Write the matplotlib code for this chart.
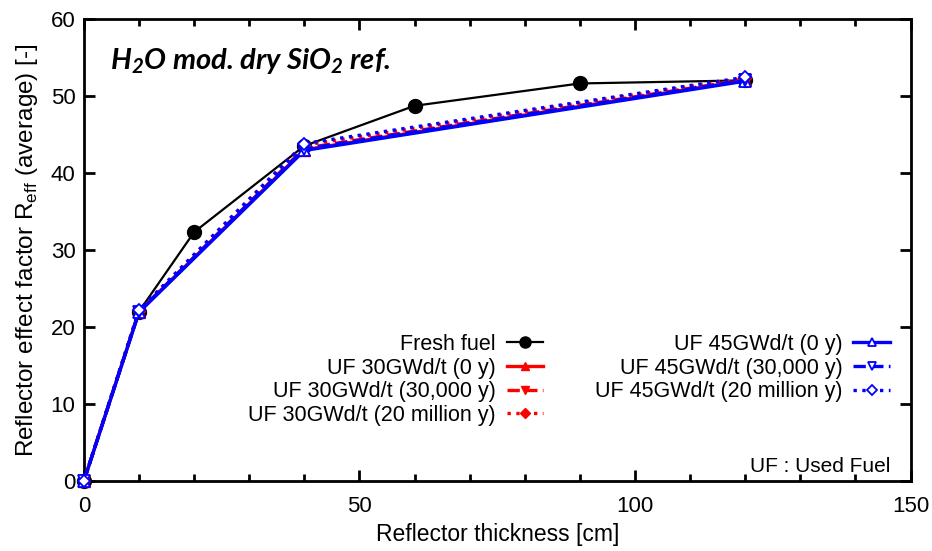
import matplotlib
matplotlib.use('Agg')
import matplotlib.pyplot as plt
from matplotlib.ticker import MultipleLocator

plt.rcParams['font.family'] = ['Liberation Sans', 'DejaVu Sans']

# reflector thickness [cm]
x_fresh = [0, 10, 20, 40, 60, 90, 120]
x_used = [0, 10, 40, 120]

# average reflector effect factor R_eff
fresh = [0, 22.0, 32.3, 43.5, 48.7, 51.6, 52.0]
uf30_0y = [0, 22.0, 43.0, 52.0]
uf30_30ky = [0, 22.0, 43.2, 52.1]
uf30_20my = [0, 22.1, 43.6, 52.3]
uf45_0y = [0, 21.9, 42.9, 51.9]
uf45_30ky = [0, 22.0, 43.1, 52.0]
uf45_20my = [0, 22.2, 43.8, 52.4]

labels = ['Fresh fuel',
          'UF 30GWd/t (0 y)', 'UF 30GWd/t (30,000 y)', 'UF 30GWd/t (20 million y)',
          'UF 45GWd/t (0 y)', 'UF 45GWd/t (30,000 y)', 'UF 45GWd/t (20 million y)']

fig = plt.figure(figsize=(9.32, 5.51), dpi=100)
ax = fig.add_axes([0.090, 0.127, 0.887, 0.839])

ax.plot(x_fresh, fresh, '-', color='black', lw=1.6, marker='o', ms=10,
        label=labels[0], clip_on=False, zorder=3)

styles = [('-', '^'), ('--', 'v'), (':', 'D')]
for (ls, mk), ys, lab in zip(styles, [uf30_0y, uf30_30ky, uf30_20my], labels[1:4]):
    ax.plot(x_used, ys, ls=ls, color='red', lw=2.4, marker=mk, ms=8 if mk != 'D' else 6,
            mfc='red', mec='red', label=lab, clip_on=False, zorder=4)
for (ls, mk), ys, lab in zip(styles, [uf45_0y, uf45_30ky, uf45_20my], labels[4:7]):
    ax.plot(x_used, ys, ls=ls, color='blue', lw=2.4, marker=mk, ms=8 if mk != 'D' else 6,
            mfc='white', mec='blue', mew=1.3, label=lab, clip_on=False, zorder=5)

ax.set_xlim(0, 150)
ax.set_ylim(0, 60)
ax.xaxis.set_major_locator(MultipleLocator(50))
ax.xaxis.set_minor_locator(MultipleLocator(10))
ax.yaxis.set_major_locator(MultipleLocator(10))
ax.tick_params(which='both', direction='in', top=True, right=True, width=2)
ax.tick_params(which='major', length=8, labelsize=16, pad=6)
ax.tick_params(axis='x', which='major', pad=11)
ax.tick_params(which='minor', length=5)
for s in ax.spines.values():
    s.set_linewidth(2)

ax.set_xlabel('Reflector thickness [cm]', fontsize=16.5, labelpad=4)
ax.set_ylabel(r'Reflector effect factor R$_{\mathregular{eff}}$ (average) [-]',
              fontsize=17.5, labelpad=8)

ax.text(0.031, 0.909, r'H$_\mathregular{2}$O mod. dry SiO$_\mathregular{2}$ ref.',
        transform=ax.transAxes, fontsize=21, fontweight='bold', style='italic',
        family=['Lato', 'DejaVu Sans'], va='center', ha='left')
ax.text(0.975, 0.01, 'UF : Used Fuel', transform=ax.transAxes,
        fontsize=15, ha='right', va='bottom')

handles, labs = ax.get_legend_handles_labels()
# first column holds four entries, second column three plus an empty slot
blank = plt.Line2D([], [], color='none')
leg_handles = handles[:4] + handles[4:] + [blank]
leg_labels = labs[:4] + labs[4:] + ['']
ax.legend(leg_handles, leg_labels, ncol=2, loc='upper right',
          bbox_to_anchor=(0.975, 0.318), frameon=False, fontsize=15.5,
          markerfirst=False, handlelength=1.7, markerscale=0.8,
          labelspacing=0.12, columnspacing=2.4, handletextpad=0.5,
          borderaxespad=0, borderpad=0)

fig.savefig('out.png', dpi=100)
